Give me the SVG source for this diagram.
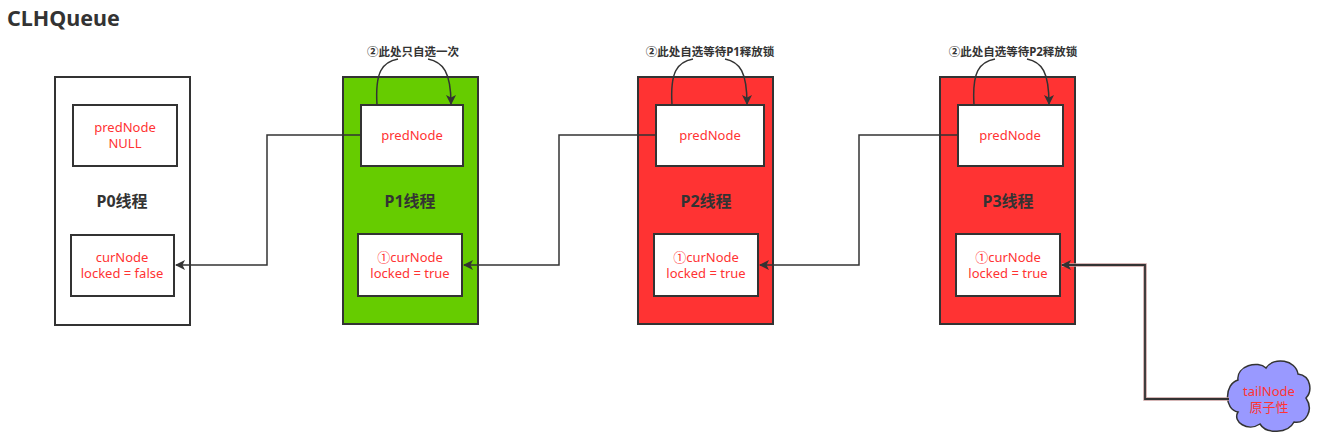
<svg xmlns="http://www.w3.org/2000/svg" width="1339" height="441" viewBox="0 0 1339 441">
<defs>
<style>
.outer{stroke:#333;stroke-width:2}
.inner{fill:#fff;stroke:#333;stroke-width:2}
.t{font-family:"Noto Sans","Noto Sans CJK SC",sans-serif;font-size:13px;fill:#ff3333;text-anchor:middle}
.lbl{font-family:"Noto Sans","Noto Sans CJK SC",sans-serif;font-size:16px;font-weight:bold;fill:#333;text-anchor:middle}
.ann{font-family:"Noto Sans","Noto Sans CJK SC",sans-serif;font-size:11.5px;font-weight:bold;fill:#333;text-anchor:middle}
.c{fill:none;stroke:#333;stroke-width:1.5}
</style>
<marker id="ah" viewBox="0 0 10 10" refX="9" refY="5" markerWidth="10" markerHeight="10" markerUnits="userSpaceOnUse" orient="auto">
<path d="M0,0 L10,5 L0,10 L2.5,5 z" fill="#333"/>
</marker>
</defs>
<rect width="1339" height="441" fill="#fff"/>
<text x="7" y="26" font-family="'Noto Sans','Open Sans',sans-serif" font-size="21.5" font-weight="bold" fill="#333">CLHQueue</text>

<g id="p0">
<rect class="outer" x="55" y="77" width="135" height="248" fill="#fff"/>
<rect class="inner" x="73" y="105" width="104" height="61"/>
<text class="t" x="125" y="132">predNode</text>
<text class="t" x="125" y="148">NULL</text>
<text class="lbl" x="122" y="207">P0线程</text>
<rect class="inner" x="71" y="235" width="103" height="61"/>
<text class="t" x="122" y="262">curNode</text>
<text class="t" x="122" y="278">locked = false</text>
</g>

<g id="p1">
<rect class="outer" x="343" y="77" width="135" height="247" fill="#66cc00"/>
<rect class="inner" x="361" y="105" width="102" height="61"/>
<text class="t" x="412" y="140">predNode</text>
<text class="lbl" x="410" y="207">P1线程</text>
<rect class="inner" x="358" y="234" width="104" height="62"/>
<text class="t" x="410" y="262">①curNode</text>
<text class="t" x="410" y="278">locked = true</text>
</g>

<g id="p2">
<rect class="outer" x="638" y="77" width="135" height="247" fill="#ff3333"/>
<rect class="inner" x="656" y="105" width="108" height="61"/>
<text class="t" x="710" y="140">predNode</text>
<text class="lbl" x="706" y="207">P2线程</text>
<rect class="inner" x="654" y="234" width="104" height="62"/>
<text class="t" x="706" y="262">①curNode</text>
<text class="t" x="706" y="278">locked = true</text>
</g>

<g id="p3">
<rect class="outer" x="940" y="77" width="135" height="247" fill="#ff3333"/>
<rect class="inner" x="958" y="105" width="105" height="61"/>
<text class="t" x="1010" y="140">predNode</text>
<text class="lbl" x="1008" y="207">P3线程</text>
<rect class="inner" x="956" y="234" width="104" height="62"/>
<text class="t" x="1008" y="262">①curNode</text>
<text class="t" x="1008" y="278">locked = true</text>
</g>

<g id="tailNode">
<path d="M1238,380 C1236,366 1258,360 1266,368 C1274,356 1296,360 1298,374 C1312,376 1312,392 1306,398 C1314,410 1306,424 1294,422 C1288,434 1266,434 1260,424 C1248,432 1232,422 1238,412 C1224,410 1224,384 1238,380 Z" fill="#9999ff" stroke="#333" stroke-width="1.5"/>
<text class="t" x="1269" y="396">tailNode</text>
<text class="t" x="1269" y="412">原子性</text>
</g>

<g id="connectors">
<path class="c" d="M361,135 H267 V265 H176" marker-end="url(#ah)"/>
<path class="c" d="M656,135 H559 V265 H464" marker-end="url(#ah)"/>
<path class="c" d="M958,135 H859 V265 H760" marker-end="url(#ah)"/>
<path d="M1229,399 H1145 V265 H1062" fill="none" stroke="#c9a0a0" stroke-width="3.5"/>
<path d="M1229,399 H1145 V265 H1062" fill="none" stroke="#333" stroke-width="1.8" marker-end="url(#ah)"/>
<path class="c" d="M377,105 C375,72 382,62 398,59 M428,59 C443,62 451,72 451,104" marker-end="url(#ah)"/>
<path class="c" d="M672,105 C670,72 677,62 693,59 M725,59 C740,62 747,72 747,104" marker-end="url(#ah)"/>
<path class="c" d="M974,105 C972,72 979,62 995,59 M1027,59 C1042,62 1049,72 1049,104" marker-end="url(#ah)"/>
</g>

<text class="ann" x="413" y="56">②此处只自选一次</text>
<text class="ann" x="710" y="56">②此处自选等待P1释放锁</text>
<text class="ann" x="1013" y="56">②此处自选等待P2释放锁</text>
</svg>
